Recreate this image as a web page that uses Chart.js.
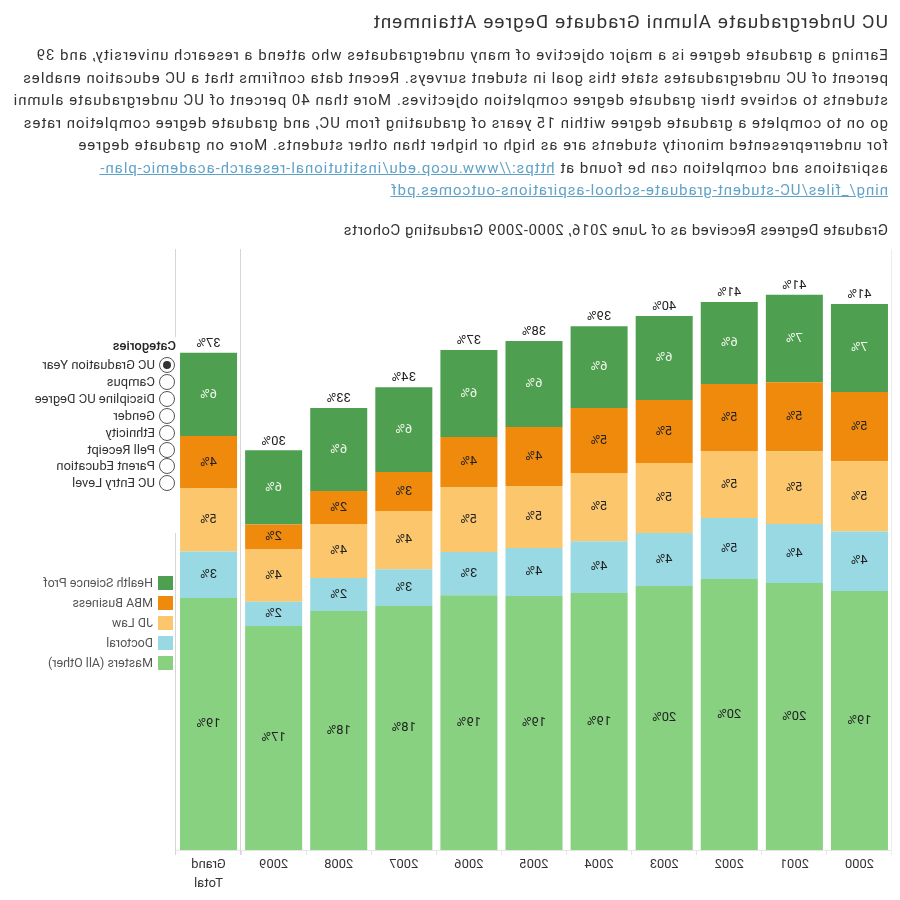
<!DOCTYPE html>
<html><head><meta charset="utf-8">
<script src="https://cdn.jsdelivr.net/npm/chart.js@4"></script>
<style>
html,body{margin:0;padding:0;background:#fff;}
#page{position:relative;width:900px;height:900px;overflow:hidden;transform:scaleX(-1);font-family:Roboto,"Liberation Sans",sans-serif;color:#333;}
.fit{position:absolute;left:12px;white-space:nowrap;}
#title{top:10px;font-size:19px;line-height:24px;color:#333;}
.ln{font-size:15px;line-height:18px;color:#333;}
.ln a{color:#5fa2c8;text-decoration:underline;}
#ctitle{top:221px;font-size:15px;line-height:18px;color:#333;}
#chartwrap{position:absolute;left:0;top:240px;width:900px;height:660px;}
#cats{position:absolute;left:722px;top:337px;width:175px;height:196px;background:#fff;font-size:13px;color:#333;}
#cats .hd{position:absolute;left:2px;top:1px;font-weight:500;line-height:16px;color:#222;}
.rad{position:absolute;left:3px;width:14px;height:14px;border:1px solid #555;border-radius:50%;background:#fff;}
.rad.on::after{content:"";position:absolute;left:3px;top:3px;width:8px;height:8px;border-radius:50%;background:#333;}
.rl{position:absolute;left:23px;line-height:16px;white-space:nowrap;}
#keys{position:absolute;left:727px;top:560px;width:170px;height:120px;font-size:12.5px;color:#555;}
.sw{position:absolute;left:0;width:15px;height:14px;}
.kl{position:absolute;left:20px;line-height:16px;white-space:nowrap;}
</style></head>
<body>
<div id="page">
  <div id="title" class="fit" data-w="516">UC Undergraduate Alumni Graduate Degree Attainment</div>
  <div class="fit ln" style="top:46px" data-w="852">Earning a graduate degree is a major objective of many undergraduates who attend a research university, and 39</div>
  <div class="fit ln" style="top:69px" data-w="865">percent of UC undergraduates state this goal in student surveys. Recent data confirms that a UC education enables</div>
  <div class="fit ln" style="top:91px" data-w="875">students to achieve their graduate degree completion objectives. More than 40 percent of UC undergraduate alumni</div>
  <div class="fit ln" style="top:114px" data-w="865">go on to complete a graduate degree within 15 years of graduating from UC, and graduate degree completion rates</div>
  <div class="fit ln" style="top:136px" data-w="810">for underrepresented minority students are as high or higher than other students. More on graduate degree</div>
  <div class="fit ln" style="top:159px" data-w="789">aspirations and completion can be found at <a>https://www.ucop.edu/institutional-research-academic-plan-</a></div>
  <div class="fit ln" style="top:181px" data-w="497"><a>ning/_files/UC-student-graduate-school-aspirations-outcomes.pdf</a></div>
  <div id="ctitle" class="fit" data-w="545">Graduate Degrees Received as of June 2016, 2000-2009 Graduating Cohorts</div>
  <div id="chartwrap"><canvas id="c" width="900" height="660"></canvas></div>
  <div id="cats"></div>
  <div id="keys"></div>
</div>
<script>
const categories = ['2000','2001','2002','2003','2004','2005','2006','2007','2008','2009',['Grand','Total']];
const seriesNames = ['Masters (All Other)','Doctoral','JD Law','MBA Business','Health Science Prof'];
const mastersAllOther   = [19.24,19.84,20.13,19.61,19.09,18.87,18.92,18.13,17.76,16.64,18.72];
const doctoral          = [4.43,4.38,4.53,3.94,3.84,3.57,3.22,2.72,2.45,1.80,3.45];
const jdLaw             = [5.22,5.40,4.98,5.20,5.07,4.60,4.83,4.33,4.01,3.89,4.68];
const mbaBusiness       = [5.13,5.13,4.98,4.68,4.83,4.38,3.71,2.90,2.45,1.86,3.90];
const healthScienceProf = [6.54,6.50,6.09,6.24,6.09,6.39,6.46,6.30,6.17,5.50,6.20];
const colors = ['#87d180','#98d9e4','#fcc66d','#ef8a0c','#4e9f50'];
const categoryOptions = ['UC Graduation Year','Campus','Discipline UC Degree','Gender','Ethnicity','Pell Receipt','Parent Education','UC Entry Level'];

// fit text line widths
document.querySelectorAll('.fit').forEach(el=>{
  const target = +el.dataset.w; const n = el.textContent.length;
  const w = el.offsetWidth;
  el.style.letterSpacing = ((target - w)/n) + 'px';
});

// category radio legend
const cats = document.getElementById('cats');
cats.innerHTML = '<div class="hd">Categories</div>' + categoryOptions.map((c,i)=>
  `<div class="rad${i===0?' on':''}" style="top:${20+i*16.9}px"></div><div class="rl" style="top:${20+i*16.9}px">${c}</div>`).join('');

// color legend (top to bottom: reverse of stack order)
const keys = document.getElementById('keys');
const order = [4,3,2,1,0];
keys.innerHTML = order.map((k,i)=>
  `<div class="sw" style="top:${16+i*20}px;background:${colors[k]}"></div><div class="kl" style="top:${15+i*20}px">${seriesNames[k]}</div>`).join('');

Chart.defaults.font.family = 'Roboto, "Liberation Sans", sans-serif';
const seriesData = [mastersAllOther, doctoral, jdLaw, mbaBusiness, healthScienceProf];

const labelPlugin = {
  id:'lbl',
  afterDatasetsDraw(chart){
    const ctx = chart.ctx; ctx.save();
    ctx.font = '13px Roboto, "Liberation Sans", sans-serif';
    ctx.textAlign='center'; ctx.textBaseline='middle';
    chart.data.datasets.forEach((ds,di)=>{
      chart.getDatasetMeta(di).data.forEach((bar,i)=>{
        const p = bar.getProps(['x','y','base'],true);
        ctx.fillStyle = di===4 ? '#f4f7ee' : '#222';
        ctx.fillText(Math.round(ds.data[i])+'%', p.x, (p.y+p.base)/2);
      });
    });
    const top = chart.getDatasetMeta(chart.data.datasets.length-1);
    ctx.fillStyle = '#222';
    top.data.forEach((bar,i)=>{
      const tot = seriesData.reduce((s,a)=>s+a[i],0);
      ctx.fillText(Math.round(tot)+'%', bar.x, bar.y-9);
    });
    ctx.restore();
  }
};
const linesPlugin = {
  id:'vlines',
  beforeDatasetsDraw(chart){
    const {ctx, chartArea:a} = chart; const xs = chart.scales.x;
    const sep = (xs.getPixelForValue(9)+xs.getPixelForValue(10))/2;
    ctx.save(); ctx.lineWidth=1;
    [[Math.round(a.left)+0.5,'#ececec'],[Math.round(sep)+0.5,'#d6d6d6'],[Math.round(a.right)+0.5,'#d6d6d6']].forEach(([x,c])=>{
      ctx.strokeStyle=c; ctx.beginPath(); ctx.moveTo(x,a.top); ctx.lineTo(x,a.bottom+5); ctx.stroke();
    });
    ctx.restore();
  }
};

new Chart(document.getElementById('c'), {
  type:'bar',
  data:{
    labels: categories,
    datasets: seriesData.map((d,i)=>({label:seriesNames[i], data:d, backgroundColor:colors[i], borderWidth:0,
      categoryPercentage:1, barPercentage:0.876}))
  },
  options:{
    responsive:false, animation:false,
    layout:{padding:{left:8,right:176,top:9,bottom:0}},
    plugins:{legend:{display:false}, tooltip:{enabled:false}},
    scales:{
      x:{stacked:true,
        grid:{display:true, drawOnChartArea:false, drawTicks:true, tickLength:5, color:'#e6e6e6', offset:true},
        border:{display:true, color:'#e6e6e6'},
        ticks:{color:'#333', padding:1, maxRotation:0, autoSkip:false, font:{size:13, lineHeight:1.4}},
        afterFit(s){ s.height = 50; }
      },
      y:{stacked:true, display:false, min:0, max:44.65}
    }
  },
  plugins:[labelPlugin, linesPlugin]
});
</script>
</body></html>
